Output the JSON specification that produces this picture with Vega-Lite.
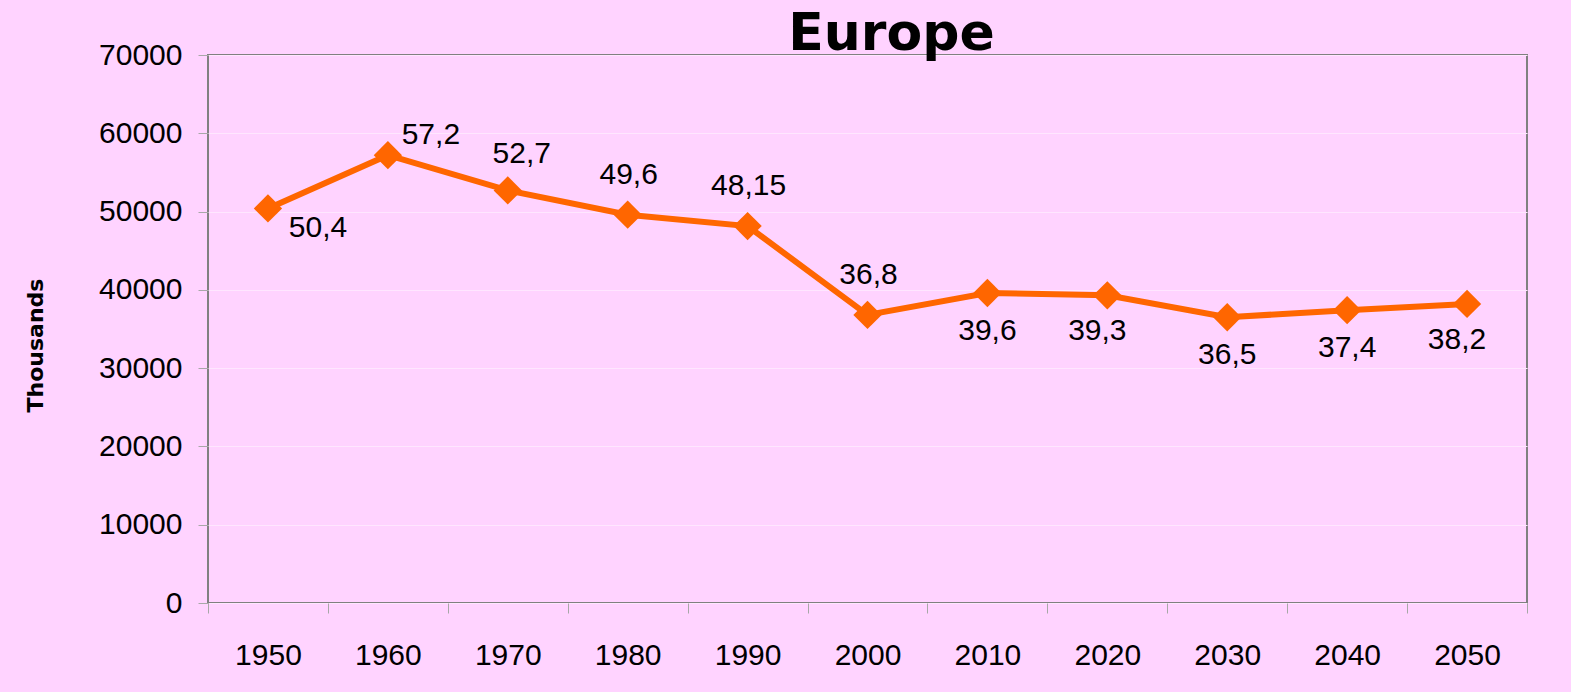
{
  "$schema": "https://vega.github.io/schema/vega-lite/v6.json",
  "width": 1319,
  "height": 548,
  "autosize": {"type": "none"},
  "padding": {"left": 208, "top": 55, "right": 44, "bottom": 89},
  "background": "#FFD3FF",
  "title": {
    "text": "Europe",
    "font": "DejaVu Sans",
    "fontSize": 52,
    "fontWeight": "bold",
    "color": "#000000",
    "anchor": "middle",
    "frame": "group",
    "dx": 24,
    "dy": 67,
    "baseline": "alphabetic",
    "offset": 5
  },
  "data": {
    "values": [
      {"year": 1950, "value": 50400, "label": "50,4"},
      {"year": 1960, "value": 57200, "label": "57,2"},
      {"year": 1970, "value": 52700, "label": "52,7"},
      {"year": 1980, "value": 49600, "label": "49,6"},
      {"year": 1990, "value": 48150, "label": "48,15"},
      {"year": 2000, "value": 36800, "label": "36,8"},
      {"year": 2010, "value": 39600, "label": "39,6"},
      {"year": 2020, "value": 39300, "label": "39,3"},
      {"year": 2030, "value": 36500, "label": "36,5"},
      {"year": 2040, "value": 37400, "label": "37,4"},
      {"year": 2050, "value": 38200, "label": "38,2"}
    ]
  },
  "encoding": {
    "x": {
      "field": "year",
      "type": "ordinal",
      "bandPosition": 0.5,
      "scale": {"type": "band", "paddingInner": 0, "paddingOuter": 0},
      "axis": {
        "title": null,
        "labelAngle": 0,
        "tickBand": "extent",
        "tickSize": 10,
        "tickColor": "#A8A8A8",
        "tickWidth": 1,
        "domain": false,
        "grid": false,
        "labelFont": "Liberation Sans",
        "labelFontSize": 30,
        "labelColor": "#000000",
        "labelPadding": 27
      }
    },
    "y": {
      "field": "value",
      "type": "quantitative",
      "scale": {"domain": [0, 70000], "nice": false},
      "axis": {
        "title": "Thousands",
        "titleFont": "DejaVu Sans",
        "titleFontSize": 22,
        "titleFontWeight": "bold",
        "titleColor": "#000000",
        "titleAngle": -90,
        "titleX": -166,
        "titleY": 290,
        "titleAlign": "center",
        "titleBaseline": "alphabetic",
        "values": [0, 10000, 20000, 30000, 40000, 50000, 60000, 70000],
        "format": "d",
        "tickSize": 10,
        "tickColor": "#A8A8A8",
        "tickWidth": 1,
        "domain": false,
        "grid": true,
        "gridColor": "#FFE6FF",
        "gridWidth": 1,
        "labelFont": "Liberation Sans",
        "labelFontSize": 30,
        "labelColor": "#000000",
        "labelPadding": 16
      }
    }
  },
  "layer": [
    {
      "mark": {"type": "line", "color": "#FF6600", "strokeWidth": 6}
    },
    {
      "mark": {"type": "point", "shape": "diamond", "filled": true, "size": 800, "color": "#FF6600", "opacity": 1}
    },
    {
      "transform": [{"filter": "datum.year == 1950"}],
      "mark": {"type": "text", "font": "Liberation Sans", "fontSize": 30, "color": "#000000", "align": "center", "baseline": "middle", "dx": 50, "dy": 20},
      "encoding": {"text": {"field": "label"}}
    },
    {
      "transform": [{"filter": "datum.year == 1960"}],
      "mark": {"type": "text", "font": "Liberation Sans", "fontSize": 30, "color": "#000000", "align": "center", "baseline": "middle", "dx": 43, "dy": -20},
      "encoding": {"text": {"field": "label"}}
    },
    {
      "transform": [{"filter": "datum.year == 1970"}],
      "mark": {"type": "text", "font": "Liberation Sans", "fontSize": 30, "color": "#000000", "align": "center", "baseline": "middle", "dx": 14, "dy": -36},
      "encoding": {"text": {"field": "label"}}
    },
    {
      "transform": [{"filter": "datum.year >= 1980 && datum.year <= 2000"}],
      "mark": {"type": "text", "font": "Liberation Sans", "fontSize": 30, "color": "#000000", "align": "center", "baseline": "middle", "dx": 1, "dy": -40},
      "encoding": {"text": {"field": "label"}}
    },
    {
      "transform": [{"filter": "datum.year == 2010 || datum.year == 2030 || datum.year == 2040"}],
      "mark": {"type": "text", "font": "Liberation Sans", "fontSize": 30, "color": "#000000", "align": "center", "baseline": "middle", "dx": 0, "dy": 38},
      "encoding": {"text": {"field": "label"}}
    },
    {
      "transform": [{"filter": "datum.year == 2020 || datum.year == 2050"}],
      "mark": {"type": "text", "font": "Liberation Sans", "fontSize": 30, "color": "#000000", "align": "center", "baseline": "middle", "dx": -10, "dy": 36},
      "encoding": {"text": {"field": "label"}}
    }
  ],
  "config": {
    "view": {"stroke": "#808080", "strokeWidth": 2},
    "font": "Liberation Sans"
  }
}
